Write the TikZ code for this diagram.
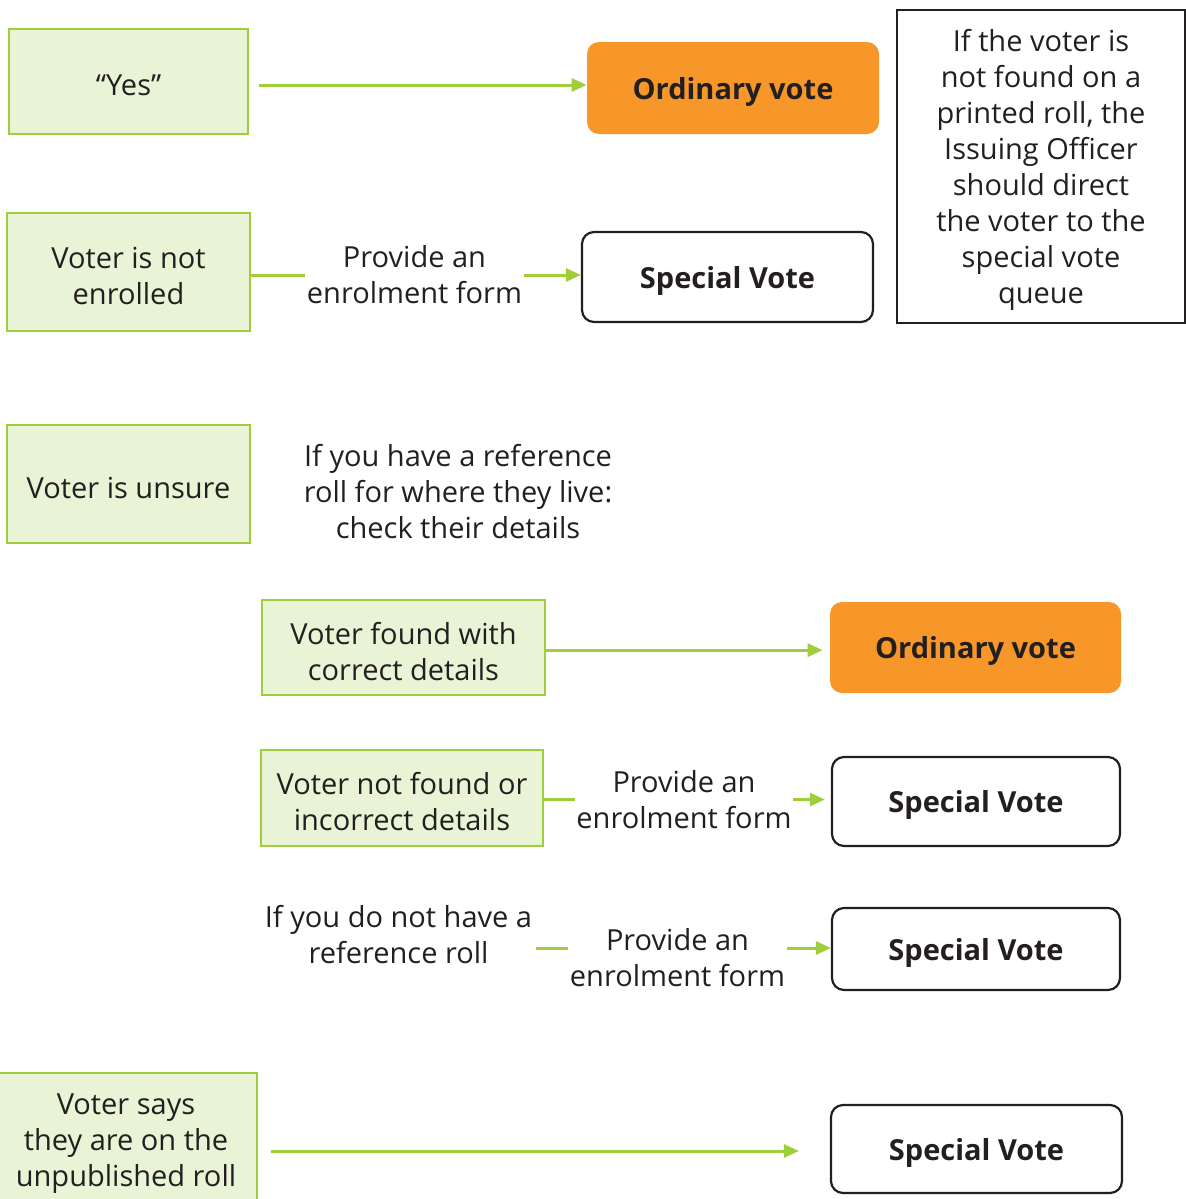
\documentclass[tikz,border=0pt]{standalone}
\usepackage{fontspec}
\setmainfont{Open Sans}
\usetikzlibrary{arrows.meta,calc}
\definecolor{gborder}{RGB}{160,205,58}
\definecolor{gfill}{RGB}{233,243,214}
\definecolor{orng}{RGB}{247,151,42}
\definecolor{txt}{RGB}{35,31,32}
\begin{document}
\begin{tikzpicture}[x=0.5pt,y=-0.5pt,
  every node/.style={font=\fontsize{14.5}{18}\selectfont, text=txt, align=center, inner sep=0pt},
  tx/.style={label={[yshift=-1.8pt]center:{#1}}},
  btx/.style={label={[yshift=-1.8pt,font=\fontsize{14.5}{18}\selectfont\bfseries]center:{#1}}},
  gbox/.style={draw=gborder, fill=gfill, line width=1.3pt},
  ovote/.style={fill=orng, rounded corners=6pt, minimum width=146pt, minimum height=46pt},
  svote/.style={draw=txt, fill=white, line width=1.1pt, rounded corners=6pt},
  conn/.style={draw=gborder, line width=1.5pt},
  arr/.style={conn, -{Triangle[length=7.5pt,width=6.5pt]}}
]
\useasboundingbox (0,0) rectangle (1186,1199);

% row 1
\node[gbox, minimum width=119.5pt, minimum height=52.5pt, tx={“Yes”}] (yes) at (128.5,81.5) {};
\node[ovote, btx={Ordinary vote}] (ov1) at (733,88) {};
\draw[arr, shorten <=5pt] ([yshift=1.5pt]yes.east |- ov1.west) -- ([yshift=1.5pt]ov1.west);

\node[draw=txt, line width=0.6pt, minimum width=144pt, minimum height=156.5pt,
  tx={If the voter is\\not found on a\\printed roll, the\\Issuing Officer\\should direct\\the voter to the\\special vote\\queue}] (info) at (1041,166.5) {};

% row 2
\node[gbox, minimum width=121.5pt, minimum height=59pt, tx={Voter is not\\enrolled}] (ne) at (128.5,272) {};
\node[minimum width=109.5pt] (p1) at (414.5,275) {Provide an\\enrolment form};
\node[svote, minimum width=145.5pt, minimum height=45pt, btx={Special Vote}] (sv1) at (727.5,277) {};
\draw[conn] (ne.east |- p1.west) -- (p1.west);
\draw[arr] (p1.east) -- (sv1.west |- p1.east);

% row 3
\node[gbox, minimum width=121.5pt, minimum height=59pt, tx={Voter is unsure}] (un) at (128.5,484) {};
\node (ref) at (458,492) {If you have a reference\\roll for where they live:\\check their details};

\node[gbox, minimum width=141.5pt, minimum height=47.5pt, tx={Voter found with\\correct details}] (fd) at (403.5,647.5) {};
\node[ovote, minimum width=145.5pt, minimum height=45.5pt, btx={Ordinary vote}] (ov2) at (975.5,647.5) {};
\draw[arr, shorten >=3.5pt] ([yshift=-1.3pt]fd.east) -- ([yshift=-1.3pt]ov2.west);

\node[gbox, minimum width=141pt, minimum height=48pt, tx={Voter not found or\\incorrect details}] (nf) at (402,798) {};
\node[minimum width=109pt] (p2) at (684,799.5) {Provide an\\enrolment form};
\node[svote, minimum width=144pt, minimum height=44.5pt, btx={Special Vote}] (sv2) at (976,801.5) {};
\draw[conn] (nf.east |- p2.west) -- (p2.west);
\draw[arr, shorten >=3pt] (p2.east) -- (sv2.west |- p2.east);

\node[minimum width=137pt] (nr) at (398.5,935) {If you do not have a\\reference roll};
\node[minimum width=109.5pt] (p3) at (677.5,958) {Provide an\\enrolment form};
\node[svote, minimum width=144pt, minimum height=41pt, btx={Special Vote}] (sv3) at (976,949) {};
\draw[conn] ([yshift=-6.5pt]nr.east) -- ([yshift=5pt]p3.west);
\draw[arr] ([yshift=5pt]p3.east) -- ([yshift=0.5pt]sv3.west);

% row 4
\node[gbox, minimum width=131pt, minimum height=67pt, tx={Voter says\\they are on the\\unpublished roll}] (up) at (126,1140) {};
\node[svote, minimum width=145.5pt, minimum height=44pt, btx={Special Vote}] (sv4) at (976.5,1149) {};
\draw[arr, shorten <=6.5pt, shorten >=15.5pt] ([yshift=-1pt]up.east |- sv4.west) -- ([yshift=-1pt]sv4.west);
\end{tikzpicture}
\end{document}
